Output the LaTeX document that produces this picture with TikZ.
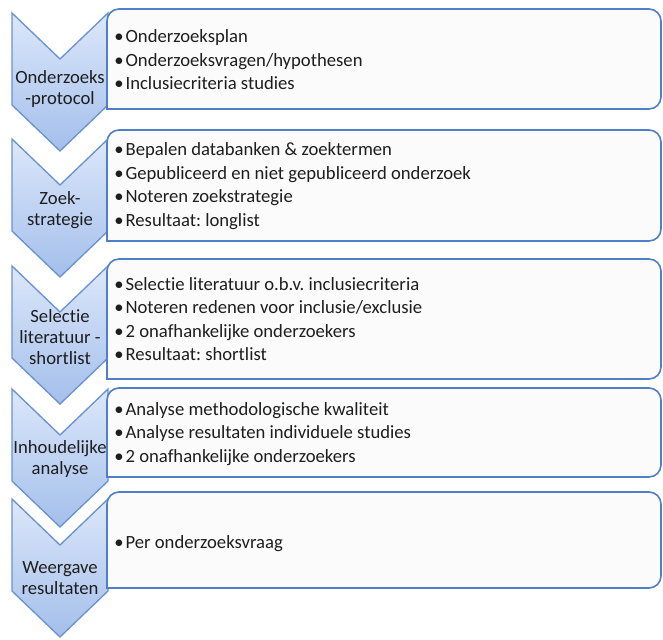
\documentclass[tikz,border=0pt]{standalone}
\usepackage{fontspec}
\setmainfont{Carlito}[Ligatures=NoCommon]
\usetikzlibrary{positioning}
\frenchspacing

\definecolor{chevtop}{HTML}{DCE7FA}
\definecolor{chevbot}{HTML}{A4BFEB}
\definecolor{chevline}{HTML}{6A92D0}
\definecolor{boxline}{HTML}{4F7FC6}
\definecolor{boxfill}{HTML}{FBFBFB}
\definecolor{txt}{HTML}{1E1E1E}

% bullet with fixed gap
\newcommand{\blt}{\makebox[8.5pt][l]{•}}
% chevron with its top at y=#1
\newcommand{\chev}[1]{\draw[chevron] (12,#1) -- (60,#1+46) -- (108,#1) -- (108,#1+92) -- (60,#1+138) -- (12,#1+92) -- cycle;}
% frame from y=#1 to y=#2, rounded on the right only
\newcommand{\frm}[2]{\draw[stepframe, rounded corners=9] (107,#2) -- (107,#1) -- (661,#1) -- (661,#2) [sharp corners] -- cycle;}

\begin{document}
\begin{tikzpicture}[
    x=0.75pt, y=-0.75pt,
    chevron/.style={draw=chevline, line width=1pt, top color=chevtop, bottom color=chevbot, line join=miter},
    stepframe/.style={draw=boxline, line width=1.2pt, fill=boxfill},
    steplabel/.style={align=center, text=txt, font=\fontsize{14}{15.5}\selectfont, inner sep=0pt},
    itemlist/.style={align=left, anchor=west, text=txt, font=\fontsize{14}{17.6}\selectfont, inner sep=0pt}
]
  \useasboundingbox (0,0) rectangle (663,639);

  % chevrons on the left
  \chev{13}
  \chev{139}
  \chev{266}
  \chev{389}
  \chev{499}

  % frames on the right
  \frm{9}{109}
  \frm{130}{241}
  \frm{259}{379}
  \frm{388}{477}
  \frm{492}{588}

  % step names
  \node[steplabel] (lab1) at (60,89) {Onderzoeks\\-protocol};
  \node[steplabel] (lab2) at (60,210) {Zoek-\\strategie};
  \node[steplabel] (lab3) at (60,337) {Selectie\\literatuur -\\shortlist};
  \node[steplabel] (lab4) at (60,459) {Inhoudelijke\\analyse};
  \node[steplabel] (lab5) at (60,578) {Weergave\\resultaten};

  % bullet lists
  \node[itemlist] (box1) at (114,60) {\blt Onderzoeksplan\\\blt Onderzoeksvragen/hypothesen\\\blt Inclusiecriteria studies};
  \node[itemlist] (box2) at (114,186) {\blt Bepalen databanken \& zoektermen\\\blt Gepubliceerd en niet gepubliceerd onderzoek\\\blt Noteren zoekstrategie\\\blt Resultaat: longlist};
  \node[itemlist] (box3) at (114,319) {\blt Selectie literatuur o.b.v. inclusiecriteria\\\blt Noteren redenen voor inclusie/exclusie\\\blt 2 onafhankelijke onderzoekers\\\blt Resultaat: shortlist};
  \node[itemlist] (box4) at (114,434) {\blt Analyse methodologische kwaliteit\\\blt Analyse resultaten individuele studies\\\blt 2 onafhankelijke onderzoekers};
  \node[itemlist] (box5) at (114,544) {\blt Per onderzoeksvraag};
\end{tikzpicture}
\end{document}
